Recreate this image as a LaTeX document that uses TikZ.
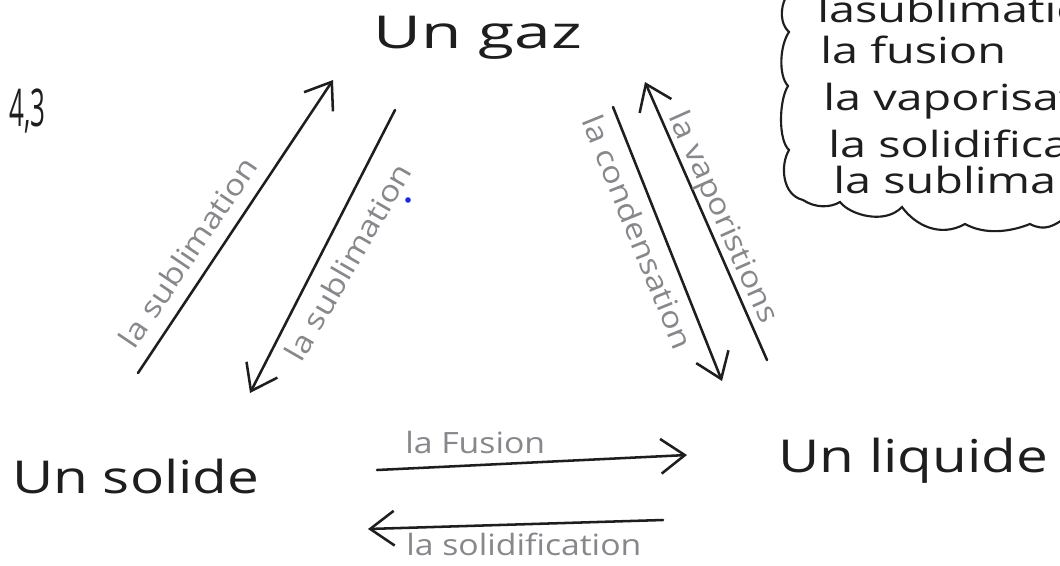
\documentclass[tikz,border=0pt]{standalone}
\usepackage{fontspec}
\setmainfont{Open Sans}
\newfontfamily\namefontA{Open Sans}[FakeStretch=1.45]
\newfontfamily\namefontB{Open Sans}[FakeStretch=1.25]
\newfontfamily\labfont{Open Sans}[FakeStretch=1.15]
\newfontfamily\cloudfont{Open Sans}[FakeStretch=1.3]
\newfontfamily\numfont{Open Sans}[FakeStretch=0.5]
\usetikzlibrary{arrows.meta}
\definecolor{ink}{RGB}{30,30,30}
\definecolor{pencil}{RGB}{135,135,140}
\definecolor{dotblue}{RGB}{20,40,230}
\begin{document}
\begin{tikzpicture}[x=0.75pt,y=-0.75pt,
  statename/.style={anchor=base west, inner sep=0pt, text=ink},
  lab/.style={font=\fontsize{22}{26}\selectfont\labfont, text=pencil, inner sep=0pt},
  cloudtxt/.style={font=\fontsize{27}{32}\selectfont\cloudfont, anchor=base west, inner sep=0pt, text=ink},
  arr/.style={draw=ink, line width=1.9pt, line cap=round, line join=round,
    -{Straight Barb[length=18pt,width=26pt]}},
  cloudline/.style={draw=ink, line width=1.6pt, line cap=round}]
\useasboundingbox (0,0) rectangle (1060,565);
\fill[white] (0,0) rectangle (1060,565);

% state names
\node[statename, font=\fontsize{34}{40}\selectfont\namefontA] (gaz) at (373,48) {Un gaz};
\node[statename, font=\fontsize{34}{40}\selectfont\namefontB] (solide) at (12,493) {Un solide};
\node[statename, font=\fontsize{34}{40}\selectfont\namefontB] (liquide) at (778,472) {Un liquide};
\node[font=\fontsize{39}{44}\selectfont\numfont, anchor=base east, inner sep=0pt, text=ink] (num) at (46,126) {4,3};

% arrow end points
\coordinate (a1s) at (138,373); \coordinate (a1e) at (333,80);
\coordinate (a2s) at (395,110); \coordinate (a2e) at (250,393);
\coordinate (a3s) at (767,360); \coordinate (a3e) at (645,82);
\coordinate (a4s) at (613,107); \coordinate (a4e) at (722,381);
\coordinate (a5s) at (377,470); \coordinate (a5e) at (687,455);
\coordinate (a6s) at (663,520); \coordinate (a6e) at (368,529);

\draw[arr] (a1s) -- (a1e);
\draw[arr] (a2s) -- (a2e);
\draw[arr] (a3s) -- (a3e);
\draw[arr] (a4s) -- (a4e);
\draw[arr] (a5s) -- (a5e);
\draw[arr] (a6s) -- (a6e);

% labels
\node[lab, rotate=56] (l1) at (188,252) {la sublimation};
\node[lab, rotate=60] (l2) at (348,262) {la sublimation};
\node[lab, rotate=-66] (l3) at (722,218) {la vaporistions};
\node[lab, rotate=-68] (l4) at (638,232) {la condensation};
\node[lab, anchor=base west] (l5) at (405,453) {la Fusion};
\node[lab, anchor=base west] (l6) at (406,555) {la solidification};

% blue dot
\fill[dotblue] (408,200) circle (2.8);

% cloud
\draw[cloudline] (786,-3)
  .. controls (780,8) and (780,24) .. (789,32)
  .. controls (780,45) and (778,75) .. (788,86)
  .. controls (779,100) and (778,140) .. (789,150)
  .. controls (780,165) and (782,195) .. (803,200)
  .. controls (815,208) and (830,208) .. (840,202)
  .. controls (850,215) and (885,225) .. (902,207)
  .. controls (915,225) and (940,238) .. (965,224)
  .. controls (985,235) and (1010,232) .. (1030,224)
  .. controls (1045,232) and (1055,225) .. (1065,218);
\node[cloudtxt] (c1) at (817,22) {lasublimatio};
\node[cloudtxt] (c2) at (820,63) {la fusion};
\node[cloudtxt] (c3) at (823,110) {la vaporisat};
\node[cloudtxt] (c4) at (828,157) {la solidifica};
\node[cloudtxt] (c5) at (833,193) {la sublima};
\end{tikzpicture}
\end{document}
